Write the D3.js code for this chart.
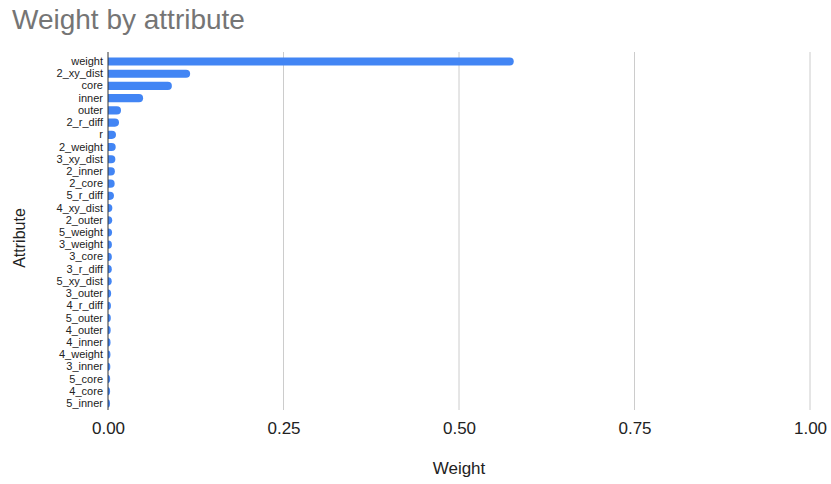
<!DOCTYPE html>
<html>
<head>
<meta charset="utf-8">
<script src="https://cdn.jsdelivr.net/npm/d3@7"></script>
<style>
  html, body { margin: 0; padding: 0; background: #fff; }
  svg { display: block; font-family: "Liberation Sans", Arial, sans-serif; }
</style>
</head>
<body>
<svg id="chart" width="831" height="484"></svg>
<script>
// Attribute names, ordered by weight (largest first)
const attributes = [
  "weight", "2_xy_dist", "core", "inner", "outer", "2_r_diff", "r", "2_weight",
  "3_xy_dist", "2_inner", "2_core", "5_r_diff", "4_xy_dist", "2_outer", "5_weight",
  "3_weight", "3_core", "3_r_diff", "5_xy_dist", "3_outer", "4_r_diff", "5_outer",
  "4_outer", "4_inner", "4_weight", "3_inner", "5_core", "4_core", "5_inner"
];
// Weight of each attribute
const weights = [
  0.578, 0.117, 0.091, 0.050, 0.0185, 0.0157, 0.0114, 0.011,
  0.0105, 0.0098, 0.0095, 0.0085, 0.0062, 0.006, 0.0058,
  0.0056, 0.0055, 0.0054, 0.0053, 0.0045, 0.0042, 0.004,
  0.0038, 0.0036, 0.0035, 0.0033, 0.0031, 0.003, 0.0029
];
const xTicks = [0, 0.25, 0.5, 0.75, 1.0];

const data = attributes.map((a, i) => ({ name: a, value: weights[i] }));

const svg = d3.select("#chart");
const margin = { left: 108, right: 21, top: 55, bottom: 74 };
const W = 831, H = 484;

const x = d3.scaleLinear().domain([0, 1]).range([margin.left, W - margin.right]);
const y = d3.scaleBand()
  .domain(attributes)
  .range([margin.top, H - margin.bottom])
  .paddingInner(0.33)
  .paddingOuter(0.2);

// Title
svg.append("text")
  .attr("x", 12).attr("y", 29)
  .attr("font-size", 28)
  .attr("fill", "#757575")
  .text("Weight by attribute");

// Vertical gridlines
svg.append("g")
  .selectAll("line")
  .data(xTicks.filter(d => d > 0))
  .join("line")
  .attr("x1", d => x(d)).attr("x2", d => x(d))
  .attr("y1", margin.top - 3).attr("y2", H - margin.bottom)
  .attr("stroke", "#cccccc").attr("stroke-width", 1);

// Bars with rounded right ends
const barH = y.bandwidth();
const r = barH / 2;
svg.append("g")
  .selectAll("path")
  .data(data)
  .join("path")
  .attr("fill", "#4285f4")
  .attr("d", d => {
    const x0 = x(0), x1 = x(d.value), y0 = y(d.name), y1 = y0 + barH;
    const rr = Math.min(r, Math.max(0, x1 - x0));
    return `M${x0},${y0}H${x1 - rr}A${rr},${r} 0 0 1 ${x1},${y0 + r}A${rr},${r} 0 0 1 ${x1 - rr},${y1}H${x0}Z`;
  });

// Zero axis line
svg.append("line")
  .attr("x1", x(0)).attr("x2", x(0))
  .attr("y1", margin.top - 3).attr("y2", H - margin.bottom)
  .attr("stroke", "#333").attr("stroke-width", 1);

// Category labels (y axis)
const yAxis = d3.axisLeft(y).tickSize(0).tickPadding(5);
const yg = svg.append("g").attr("transform", `translate(${x(0)},0)`).call(yAxis);
yg.select(".domain").remove();
yg.selectAll("text").attr("font-size", 11).attr("fill", "#222")
  .attr("font-family", "\"Liberation Sans\", Arial, sans-serif");

// X axis tick labels
const xAxis = d3.axisBottom(x).tickValues(xTicks).tickFormat(d3.format(".2f")).tickSize(0).tickPadding(12);
const xg = svg.append("g").attr("transform", `translate(0,${H - margin.bottom})`).call(xAxis);
xg.select(".domain").remove();
xg.selectAll("text").attr("font-size", 17).attr("fill", "#222")
  .attr("font-family", "\"Liberation Sans\", Arial, sans-serif");

// Axis titles
svg.append("text")
  .attr("x", (x(0) + x(1)) / 2).attr("y", 474)
  .attr("text-anchor", "middle")
  .attr("font-size", 17).attr("fill", "#222")
  .text("Weight");

svg.append("text")
  .attr("transform", `translate(25,238) rotate(-90)`)
  .attr("text-anchor", "middle")
  .attr("font-size", 16).attr("fill", "#222")
  .text("Attribute");
</script>
</body>
</html>
